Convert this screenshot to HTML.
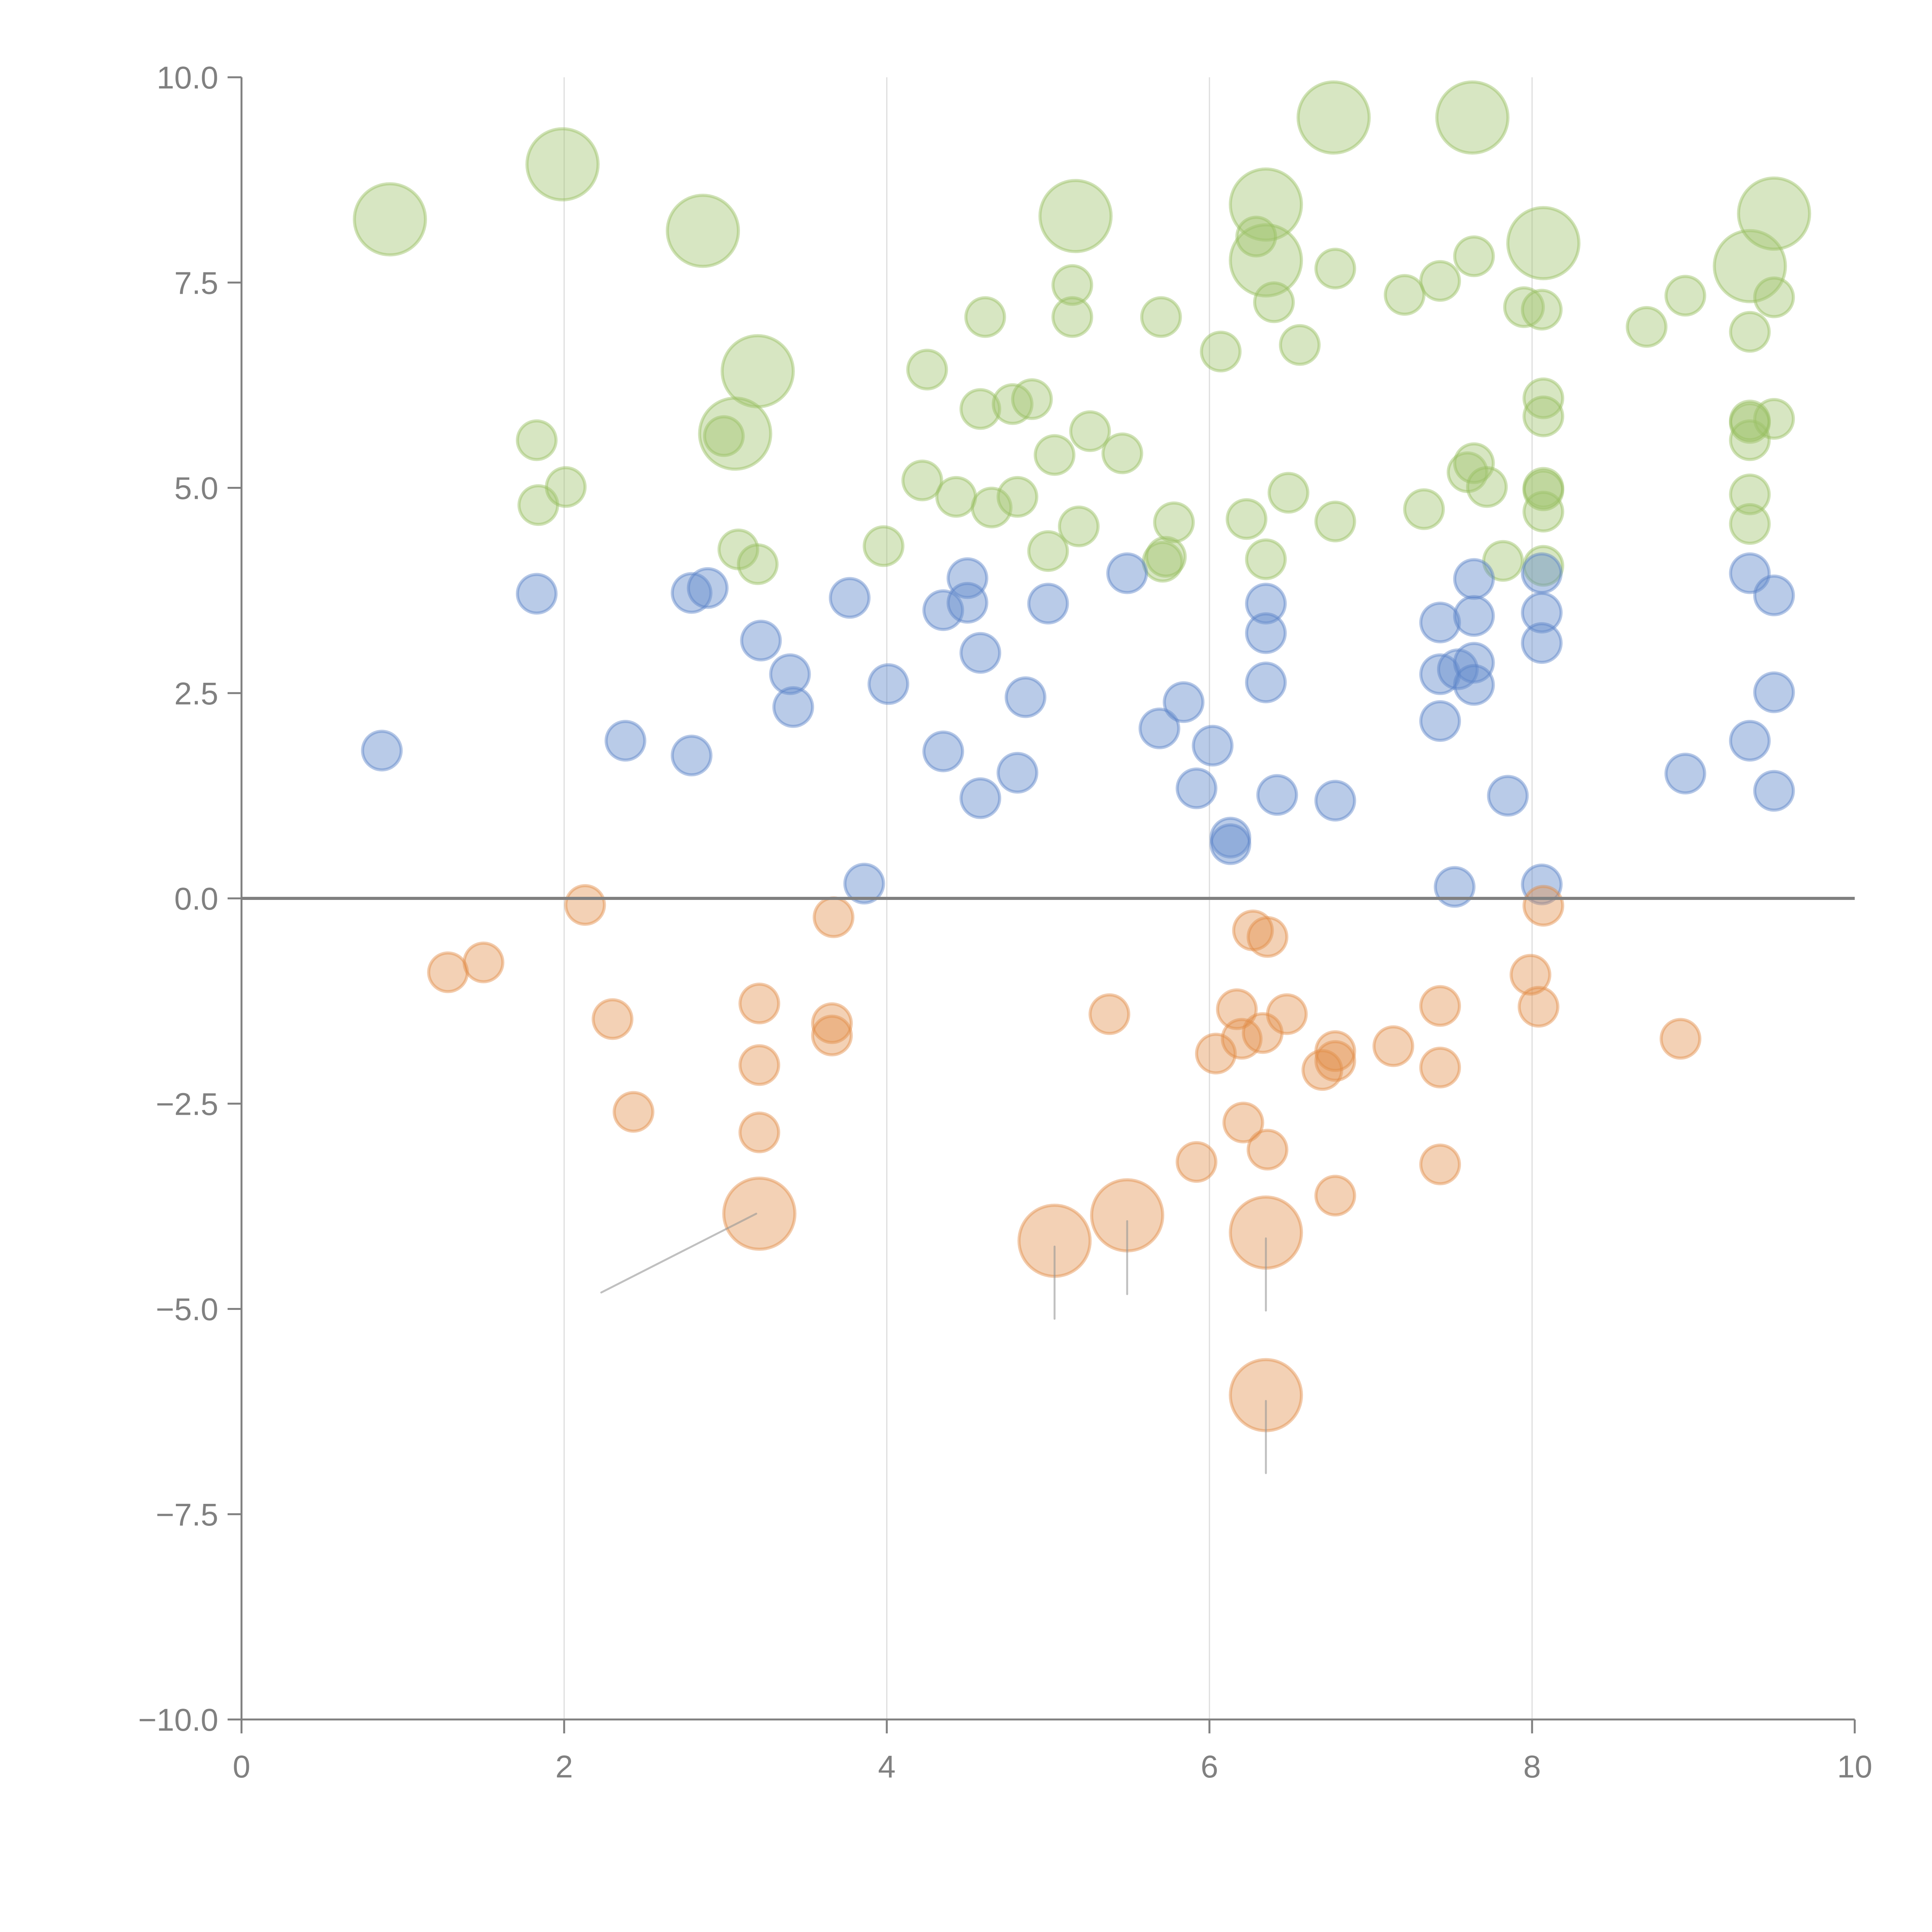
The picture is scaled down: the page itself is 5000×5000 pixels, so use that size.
<!DOCTYPE html>
<html><head><meta charset="utf-8"><style>
html,body{margin:0;padding:0;background:#fff;}
svg{display:block;}
text{font-family:"Liberation Sans",Arial,sans-serif;fill:#808080;}
</style></head>
<body>
<svg id="chart" width="5000" height="5000" viewBox="0 0 5000 5000" xmlns="http://www.w3.org/2000/svg">
<g id="grid"></g>
<g id="marks"></g>
<g id="axes"></g>
</svg>
<script>
const xTicks = [0, 2, 4, 6, 8, 10];
const yTicks = [-10, -7.5, -5, -2.5, 0, 2.5, 5, 7.5, 10];
const yTickLabels = ["\u221210.0", "\u22127.5", "\u22125.0", "\u22122.5", "0.0", "2.5", "5.0", "7.5", "10.0"];
const greenSmallX = [1.83,1.84,2.01,3.08,3.20,2.99,3.98,4.25,4.22,4.43,4.58,4.61,4.65,4.78,4.81,4.90,5.00,5.04,5.15,5.15,5.19,5.26,5.46,5.70,5.71,5.73,5.78,6.07,6.23,6.29,6.35,6.40,6.49,6.56,6.78,6.78,7.21,7.33,7.43,7.60,7.64,7.64,7.72,7.82,7.95,8.06,8.07,8.07,8.07,8.07,8.07,8.07,8.71,8.95,9.35,9.35,9.35,9.35,9.35,9.50,9.50,9.35];
const greenSmallY = [5.58,4.79,5.01,4.25,4.07,5.63,4.29,6.44,5.09,4.89,5.96,7.08,4.76,6.02,4.89,6.08,4.23,5.40,7.47,7.08,4.53,5.69,5.42,7.08,4.10,4.16,4.58,6.66,4.62,8.06,4.13,7.26,4.94,6.74,7.67,4.59,7.35,4.74,7.52,5.19,7.82,5.30,5.01,4.11,7.20,7.17,6.09,5.87,5.00,4.71,4.05,4.97,6.96,7.34,6.90,5.79,5.58,4.92,4.56,7.32,5.84,5.82];
const greenLargeX = [0.92,1.99,2.86,3.20,3.06,5.17,6.35,6.35,6.77,7.63,8.07,9.35,9.50];
const greenLargeY = [8.27,8.94,8.13,6.42,5.66,8.31,8.45,7.77,9.51,9.51,7.98,7.70,8.34];
const blueX = [0.87,1.83,2.38,2.79,2.79,2.89,3.22,3.40,3.42,3.77,3.86,4.01,4.35,4.35,4.50,4.50,4.58,4.58,4.81,4.86,5.00,5.49,5.69,5.84,5.92,6.02,6.13,6.13,6.35,6.35,6.35,6.42,6.78,7.43,7.43,7.43,7.52,7.54,7.64,7.64,7.64,7.64,7.85,8.06,8.06,8.06,8.06,8.95,9.35,9.35,9.50,9.50,9.50];
const blueY = [1.80,3.71,1.92,1.74,3.72,3.78,3.14,2.73,2.33,3.66,0.18,2.61,3.51,1.79,3.90,3.60,2.99,1.22,1.53,2.45,3.59,3.96,2.07,2.39,1.34,1.86,0.74,0.66,3.59,3.23,2.63,1.26,1.19,3.36,2.73,2.16,0.14,2.79,3.89,3.44,2.87,2.60,1.25,3.96,3.48,3.11,0.17,1.52,3.96,1.92,3.69,2.51,1.31];
const orangeSmallX = [1.28,1.50,2.13,2.30,2.43,3.21,3.21,3.21,3.67,3.66,3.66,5.38,5.92,6.04,6.17,6.20,6.27,6.36,6.33,6.36,6.21,6.48,6.70,6.78,6.78,6.78,7.14,7.43,7.43,7.43,7.99,8.04,8.07,8.92];
const orangeSmallY = [-0.90,-0.78,-0.08,-1.47,-2.60,-1.28,-2.03,-2.85,-0.23,-1.52,-1.67,-1.41,-3.21,-1.89,-1.35,-1.71,-0.39,-0.47,-1.64,-3.06,-2.73,-1.41,-2.09,-1.86,-1.98,-3.62,-1.80,-1.31,-2.06,-3.24,-0.93,-1.32,-0.09,-1.71];
const orangeLargeX = [3.21,5.04,5.49,6.35,6.35];
const orangeLargeY = [-3.84,-4.17,-3.86,-4.07,-6.05];
const leaderEndX = [2.23,5.04,5.49,6.35,6.35];
const leaderEndY = [-4.80,-5.12,-4.82,-5.02,-7.00];

const NS = "http://www.w3.org/2000/svg";
const X = v => 625 + v * 417.5;
const Y = v => 2325 - v * 212.5;
function mk(tag, attrs, parent) {
  const e = document.createElementNS(NS, tag);
  for (const k in attrs) e.setAttribute(k, attrs[k]);
  parent.appendChild(e);
  return e;
}
const grid = document.getElementById('grid');
const marks = document.getElementById('marks');
const axes = document.getElementById('axes');

xTicks.forEach(t => {
  if (t > 0 && t < 10) {
    const g = mk('line', {x1: X(t), x2: X(t), y1: Y(10), y2: Y(-10), stroke: '#dddddd', 'stroke-width': 3}, grid);
    
    
  }
});

function drawSeries(xs, ys, r, fill, stroke, name) {
  xs.forEach((x, i) => {
    const c = mk('circle', {cx: X(x), cy: Y(ys[i]), r: r, fill: fill, stroke: stroke, 'stroke-width': 8}, marks);
    
    
  });
}
const G = ['rgba(160,196,110,0.42)', 'rgba(150,190,95,0.45)'];
const B = ['rgba(100,140,205,0.45)', 'rgba(90,130,200,0.45)'];
const O = ['rgba(226,140,70,0.40)', 'rgba(226,140,70,0.45)'];
drawSeries(greenLargeX, greenLargeY, 92, G[0], G[1], 'green-bubble-large');
drawSeries(greenSmallX, greenSmallY, 50, G[0], G[1], 'green-bubble');
drawSeries(blueX, blueY, 50, B[0], B[1], 'blue-bubble');
drawSeries(orangeSmallX, orangeSmallY, 50, O[0], O[1], 'orange-bubble');
drawSeries(orangeLargeX, orangeLargeY, 92, O[0], O[1], 'orange-bubble-large');

orangeLargeX.forEach((x, i) => {
  const l = mk('line', {x1: X(x) - (i === 0 ? 8 : 0), y1: Y(orangeLargeY[i]) - (i === 0 ? 0 : -15), x2: X(leaderEndX[i]), y2: Y(leaderEndY[i]), stroke: 'rgba(150,150,150,0.6)', 'stroke-width': 5, 'stroke-linecap': 'round'}, marks);
  
  
});

const zl = mk('line', {x1: X(0), x2: X(10), y1: Y(0), y2: Y(0), stroke: '#808080', 'stroke-width': 8}, axes);


const ya = mk('line', {x1: X(0), x2: X(0), y1: Y(10), y2: Y(-10), stroke: '#808080', 'stroke-width': 5}, axes);


const xa = mk('line', {x1: X(0), x2: X(10), y1: Y(-10), y2: Y(-10), stroke: '#808080', 'stroke-width': 5}, axes);



yTicks.forEach((t, i) => {
  const tk = mk('line', {x1: X(0) - 36, x2: X(0), y1: Y(t), y2: Y(t), stroke: '#808080', 'stroke-width': 5}, axes);
  
  
  const tx = mk('text', {x: 565, y: Y(t) + 29, 'text-anchor': 'end', 'font-size': 82}, axes);
  tx.textContent = yTickLabels[i];
  
  
});
xTicks.forEach(t => {
  const tk = mk('line', {x1: X(t), x2: X(t), y1: Y(-10), y2: Y(-10) + 36, stroke: '#808080', 'stroke-width': 5}, axes);
  
  
  const tx = mk('text', {x: X(t), y: Y(-10) + 150, 'text-anchor': 'middle', 'font-size': 82}, axes);
  tx.textContent = String(t);
  
  
});
</script>
</body></html>
